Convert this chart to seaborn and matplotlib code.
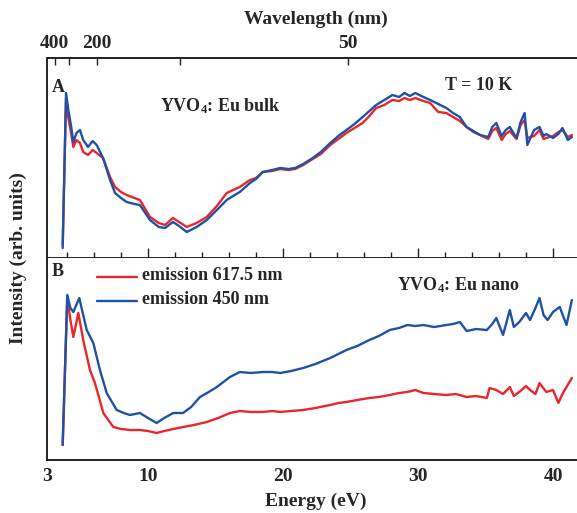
import numpy as np
import pandas as pd
import matplotlib
matplotlib.use("Agg")
import matplotlib.pyplot as plt
import seaborn as sns

sns.set_theme(style="white")
plt.rcParams['font.family'] = ['Liberation Serif', 'DejaVu Serif']
plt.rcParams['font.weight'] = 'bold'
plt.rcParams['mathtext.fontset'] = 'custom'
plt.rcParams['mathtext.rm'] = 'Liberation Serif:bold'
plt.rcParams['mathtext.bf'] = 'Liberation Serif:bold'
plt.rcParams['mathtext.it'] = 'Liberation Serif:bold'

# ---------------- data (arb. units) ----------------
# Panel A: YVO4:Eu bulk
bulk_red_E = [3.68, 3.93, 4.1, 4.3, 4.47, 4.7, 4.96, 5.2, 5.56, 5.9, 6.2, 6.67, 7.19, 7.56, 8.0, 8.42, 9.0, 9.4,
              10.15, 10.8, 11.26, 11.85, 12.3, 12.87, 13.6, 14.35, 15.1, 15.83, 16.3, 16.8, 17.55, 18.0, 18.5, 19.2,
              19.8, 20.4, 20.9, 21.5, 22.2, 22.8, 23.5, 24.1, 24.7, 25.3, 25.9, 26.4, 26.9, 27.5, 28.1, 28.6,
              29.0, 29.4, 29.8, 30.4, 30.9, 31.5, 32.1, 32.6, 33.1, 33.6, 34.1, 34.6, 35.2, 35.5, 35.8, 36.2,
              36.5, 36.8, 37.3, 37.6, 37.9, 38.1, 38.6, 39.0, 39.3, 39.5, 40.0, 40.4, 40.7, 41.1, 41.4]
bulk_red_I = [13, 160, 140, 125, 111, 118, 115, 106, 103, 108, 105, 100, 81, 71, 66, 63, 60, 58,
              41, 35, 33, 40, 36, 31, 35, 41, 52, 65, 68, 71, 78, 80, 86, 87,
              89, 88, 89, 93, 99, 104, 113, 119, 125, 130, 135, 142, 150, 153, 158, 157,
              160, 158, 160, 157, 155, 146, 145, 141, 137, 131, 126, 123, 119, 127, 130, 118,
              124, 127, 119, 133, 138, 120, 122, 128, 119, 120, 122, 126, 128, 121, 123]
bulk_blue_E = [3.68, 3.93, 4.1, 4.3, 4.47, 4.7, 4.96, 5.2, 5.56, 5.9, 6.2, 6.67, 7.19, 7.56, 8.0, 8.42, 9.0, 9.4,
               10.15, 10.8, 11.26, 11.85, 12.3, 12.87, 13.6, 14.35, 15.1, 15.83, 16.3, 16.8, 17.55, 18.0, 18.5, 19.2,
               19.8, 20.4, 20.9, 21.5, 22.2, 22.8, 23.5, 24.1, 24.7, 25.3, 25.9, 26.4, 26.9, 27.5, 28.1, 28.6,
               29.0, 29.4, 29.8, 30.4, 30.9, 31.5, 32.1, 32.6, 33.1, 33.6, 34.1, 34.6, 35.2, 35.5, 35.8, 36.2,
               36.5, 36.8, 37.3, 37.6, 37.9, 38.1, 38.6, 39.0, 39.3, 39.5, 40.0, 40.4, 40.7, 41.1, 41.4]
bulk_blue_I = [10, 165, 148, 132, 116, 125, 128, 118, 111, 117, 113, 100, 78, 65, 60, 56, 54, 53,
               38, 31, 30, 36, 32, 26, 31, 38, 48, 58, 62, 66, 75, 79, 86, 88,
               90, 89, 90, 94, 100, 106, 115, 122, 128, 134, 141, 147, 153, 158, 163, 161,
               165, 162, 165, 161, 158, 154, 150, 145, 141, 131, 127, 123, 121, 131, 135, 122,
               128, 131, 120, 136, 145, 113, 128, 131, 122, 124, 120, 124, 130, 118, 121]

# Panel B: YVO4:Eu nano
nano_red_E = [3.68, 4.02, 4.25, 4.47, 4.84, 5.2, 5.7, 6.07, 6.69, 7.43, 8.0, 8.67, 9.4, 10.0, 10.64, 11.2, 11.87,
              12.6, 13.4, 14.35, 15.2, 16.07, 16.8, 17.6, 18.5, 19.2, 19.8, 20.6, 21.5, 22.4, 23.5, 24.1, 24.7, 25.5,
              26.4, 27.1, 27.9, 28.6, 29.2, 29.8, 30.4, 31.2, 32.1, 32.8, 33.6, 34.3, 35.1, 35.3, 35.8, 36.3,
              36.8, 37.1, 37.5, 38.0, 38.3, 38.7, 39.0, 39.5, 40.0, 40.4, 40.7, 41.0, 41.4]
nano_red_I = [15, 163, 140, 123, 147, 120, 90, 77, 47, 33, 31, 30, 30, 29, 27, 29, 31,
              33, 35, 38, 42, 47, 49, 48, 48, 49, 48, 49, 50, 52, 55, 57, 58, 60,
              62, 63, 65, 67, 68, 70, 67, 66, 65, 66, 63, 64, 62, 72, 70, 66,
              73, 64, 68, 74, 70, 66, 77, 68, 70, 57, 66, 73, 82]
nano_blue_E = [3.68, 4.02, 4.25, 4.47, 4.91, 5.2, 5.46, 5.95, 6.44, 6.94, 7.68, 8.2, 8.67, 9.4, 10.0, 10.64, 11.2,
               11.87, 12.6, 13.2, 13.85, 14.5, 15.1, 16.07, 16.8, 17.6, 18.5, 19.2, 19.8, 20.6, 21.5, 22.4, 23.5,
               24.1, 24.7, 25.5, 26.4, 27.1, 27.9, 28.6, 29.2, 29.8, 30.4, 31.2, 32.1, 32.6, 33.1, 33.6, 34.3,
               35.1, 35.5, 35.8, 36.3, 36.8, 37.1, 37.5, 38.0, 38.3, 38.7, 39.0, 39.3, 39.6, 40.0, 40.5, 41.0, 41.4]
nano_blue_I = [15, 165, 152, 148, 162, 145, 130, 117, 90, 67, 50, 47, 45, 47, 42, 37, 42,
               47, 47, 53, 63, 68, 73, 83, 88, 87, 88, 88, 87, 89, 92, 96, 102,
               106, 110, 114, 120, 124, 130, 132, 135, 134, 135, 133, 135, 136, 138, 129, 131,
               130, 136, 142, 125, 150, 133, 138, 147, 140, 152, 162, 145, 140, 148, 153, 135, 160]

wavelength_ticks = [400, 300, 200, 100, 50]
wavelength_labels = ['400', '', '200', '', '50']
energy_major = [10, 20, 30, 40]

RED = '#e8262b'
BLUE = '#1d52a5'

fig = plt.figure(figsize=(5.77, 5.13), dpi=100)
W, H = 577, 513
left = 47 / W
width = 1.012 - left
ax1 = fig.add_axes([left, (H - 258) / H, width, 200 / H])
ax2 = fig.add_axes([left, (H - 460) / H, width, 202 / H])

df_a = pd.concat([
    pd.DataFrame({'E': bulk_red_E, 'I': bulk_red_I, 's': 'emission 617.5 nm'}),
    pd.DataFrame({'E': bulk_blue_E, 'I': bulk_blue_I, 's': 'emission 450 nm'})])
df_b = pd.concat([
    pd.DataFrame({'E': nano_red_E, 'I': nano_red_I, 's': 'emission 617.5 nm'}),
    pd.DataFrame({'E': nano_blue_E, 'I': nano_blue_I, 's': 'emission 450 nm'})])

pal = {'emission 617.5 nm': RED, 'emission 450 nm': BLUE}
sns.lineplot(data=df_a, x='E', y='I', hue='s', palette=pal, ax=ax1, lw=1.7, sort=False, legend=False,
             estimator=None)
sns.lineplot(data=df_b, x='E', y='I', hue='s', palette=pal, ax=ax2, lw=1.7, sort=False, legend=False,
             estimator=None)

xlo = 3 - 6.5 / 13.5
xhi = xlo + width * W / 13.5
for ax, ylim in ((ax1, (0, 200)), (ax2, (0, 202))):
    ax.set_xlim(xlo, xhi)
    ax.set_ylim(*ylim)
    ax.set_xlabel('')
    ax.set_ylabel('')
    for s in ax.spines.values():
        s.set_color('#222222')
        s.set_linewidth(1.4)
    ax.spines['right'].set_visible(False)
    ax.set_xticks(np.arange(4, 42, 2), minor=True)
    ax.tick_params(axis='both', which='both', direction='in', color='#222222', width=1.0)
    ax.tick_params(axis='x', which='major', length=7)
    ax.tick_params(axis='x', which='minor', length=4.5)
    ax.tick_params(axis='y', which='both', length=4, labelleft=False)
    ax.grid(False)

ax1.set_yticks([25, 69, 113, 156])
ax2.set_yticks([15, 52, 89, 127, 164])

ax1.set_xticks(energy_major)
ax1.tick_params(axis='x', labelbottom=False)

ax2.set_xticks([xlo] + energy_major)
ax2.set_xticklabels(['3'] + [str(v) for v in energy_major], fontsize=14, fontweight='bold')
ax2.tick_params(axis='x', which='major', pad=6)
ax2.spines['top'].set_visible(False)

# wavelength axis
axt = ax1.twiny()
axt.set_xlim(ax1.get_xlim())
axt.set_xticks([1239.84 / w for w in wavelength_ticks])
axt.set_xticklabels(wavelength_labels, fontsize=14, fontweight='bold')
axt.set_xticks([], minor=True)
axt.tick_params(axis='x', direction='in', length=5, width=1.0, color='#222222', pad=4)
for s in axt.spines.values():
    s.set_visible(False)
axt.set_xlabel('Wavelength (nm)', fontsize=14, fontweight='bold', labelpad=8)
axt.grid(False)

ax2.set_xlabel('Energy (eV)', fontsize=14, fontweight='bold', labelpad=5)
fig.text(18 / W, 1 - 258 / H, 'Intensity (arb. units)', rotation=90, fontsize=14, fontweight='bold',
         ha='center', va='center')

# annotations
def ftxt(x, y, s, **kw):
    fig.text(x / W, 1 - y / H, s, fontsize=kw.pop('fontsize', 13), fontweight='bold', **kw)

ftxt(52, 88, 'A', ha='left', va='center')
ftxt(160, 106, r'YVO$_\mathbf{4}$: Eu bulk', ha='left', va='center')
ftxt(445, 86, 'T = 10 K', ha='left', va='center')
ftxt(52, 272, 'B', ha='left', va='center')
ftxt(397, 285, r'YVO$_\mathbf{4}$: Eu nano', ha='left', va='center')

# legend-like entries
for yy, col, lab in ((277, RED, 'emission 617.5 nm'), (301, BLUE, 'emission 450 nm')):
    fig.add_artist(plt.Line2D([97 / W, 137 / W], [1 - yy / H, 1 - yy / H], color=col, lw=1.7))
    ftxt(142, yy - 1, lab, ha='left', va='center')

fig.savefig('out.png', dpi=100)
